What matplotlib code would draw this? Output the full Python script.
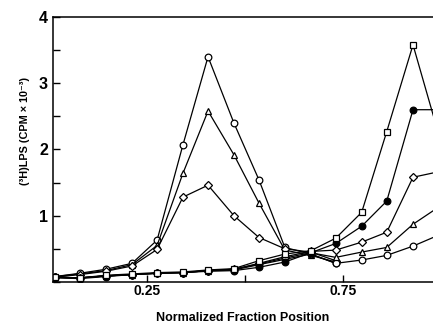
import matplotlib
matplotlib.use("Agg")
import matplotlib.pyplot as plt
from matplotlib.ticker import MultipleLocator, FixedLocator

plt.rcParams['font.family'] = ['Liberation Sans', 'DejaVu Sans']
plt.rcParams['font.weight'] = 'bold'

# fraction positions
x = [0.015, 0.079, 0.145, 0.212, 0.276, 0.342, 0.406, 0.472,
     0.536, 0.602, 0.668, 0.732, 0.798, 0.862, 0.929, 0.992]

# early peak (first 12 fractions)
circ_a = [0.08, 0.13, 0.19, 0.28, 0.63, 2.07, 3.40, 2.40, 1.54, 0.52, 0.42, 0.28]
tri_b = [0.08, 0.12, 0.17, 0.26, 0.55, 1.64, 2.58, 1.92, 1.19, 0.48, 0.40, 0.30]
dia_c = [0.07, 0.11, 0.16, 0.24, 0.49, 1.28, 1.46, 1.00, 0.67, 0.50, 0.45, 0.32]

# late peak (all fractions)
sq_d = [0.07, 0.06, 0.10, 0.12, 0.14, 0.15, 0.18, 0.20, 0.32, 0.42, 0.47, 0.66, 1.05, 2.27, 3.58, 2.28]
fc_e = [0.06, 0.05, 0.08, 0.11, 0.13, 0.14, 0.16, 0.17, 0.22, 0.30, 0.44, 0.58, 0.84, 1.22, 2.60, 2.60]
dia_f = [0.07, 0.06, 0.09, 0.11, 0.13, 0.14, 0.17, 0.19, 0.28, 0.38, 0.46, 0.48, 0.60, 0.75, 1.58, 1.66]
tri_g = [0.07, 0.06, 0.09, 0.11, 0.13, 0.14, 0.17, 0.19, 0.27, 0.36, 0.44, 0.37, 0.45, 0.52, 0.87, 1.12]
circ_h = [0.07, 0.06, 0.09, 0.11, 0.13, 0.14, 0.17, 0.18, 0.26, 0.34, 0.42, 0.28, 0.33, 0.40, 0.54, 0.70]

fig = plt.figure(figsize=(4.33, 3.27), dpi=100)
ax = fig.add_axes([0.122, 0.138, 0.878, 0.810])

n = len(circ_a)
line = dict(color="black", linewidth=0.9, markeredgewidth=0.9, markerfacecolor="white")
ax.plot(x[:n], circ_a, marker="o", markersize=4.8, **line)
ax.plot(x[:n], tri_b, marker="^", markersize=5, **line)
ax.plot(x[:n], dia_c, marker="D", markersize=4, **line)
ax.plot(x, circ_h, marker="o", markersize=4.8, **line)
ax.plot(x, tri_g, marker="^", markersize=5, **line)
ax.plot(x, dia_f, marker="D", markersize=4, **line)
ax.plot(x, fc_e, marker="o", markersize=4.8, color="black", linewidth=0.9,
        markeredgewidth=0.9, markerfacecolor="black")
ax.plot(x, sq_d, marker="s", markersize=4.5, **line)

ax.set_xlim(0.01, 0.98)
ax.set_ylim(0, 4)
ax.spines['right'].set_visible(False)
for s in ['left', 'top', 'bottom']:
    ax.spines[s].set_linewidth(1.1)

ax.xaxis.set_major_locator(FixedLocator([0.25, 0.5, 0.75]))
ax.set_xticklabels(["0.25", "", "0.75"], fontsize=10)
ax.yaxis.set_major_locator(FixedLocator([1, 2, 3, 4]))
ax.yaxis.set_minor_locator(MultipleLocator(0.5))
ax.set_yticklabels(["1", "2", "3", "4"], fontsize=11.5)
ax.tick_params(direction="in", length=5, width=1)
ax.tick_params(which="minor", direction="in", length=5, width=1)
ax.tick_params(axis="x", pad=1.5)
ax.tick_params(axis="y", pad=3.5)

ax.set_xlabel("Normalized Fraction Position", fontsize=9, fontweight="bold", va="top")
ax.xaxis.set_label_coords(0.5, -0.113)
ax.set_ylabel("(³H)LPS (CPM × 10⁻³)", fontsize=7.8, fontweight="bold")
ax.yaxis.set_label_coords(-0.06, 0.57)

fig.savefig("out.png", dpi=100)
